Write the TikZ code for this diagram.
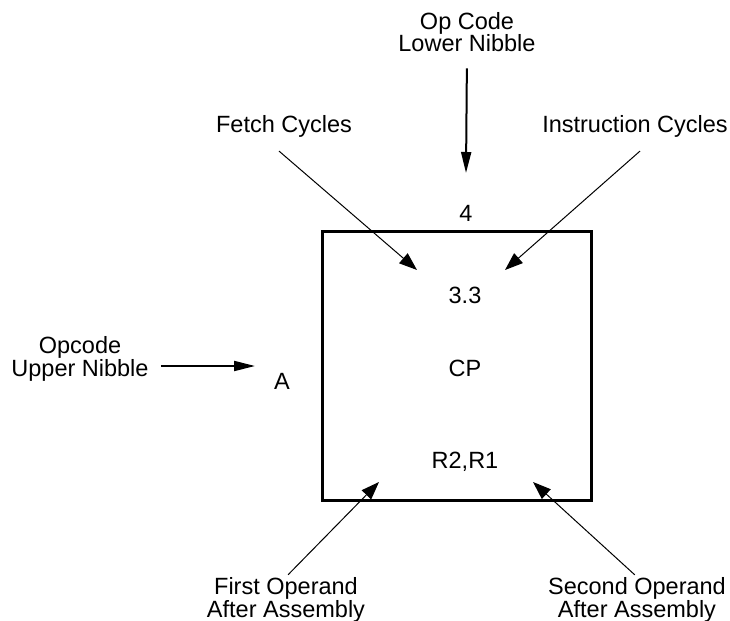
\documentclass[tikz,border=0pt]{standalone}
\usepackage{fontspec}
\setmainfont{Liberation Sans}
\usetikzlibrary{arrows.meta}
\tikzset{
  etichetta/.style={inner sep=0pt, align=center, anchor=base, font=\fontsize{23.5bp}{20bp}\selectfont},
  freccia/.style={line width=2bp, -{Triangle[length=21bp,width=10bp]}},
  freccina/.style={line width=1bp, -{Triangle[length=18bp,width=13bp]}}
}

\begin{document}
\begin{tikzpicture}[x=1bp,y=-1bp]
    \useasboundingbox (0,0) rectangle (730,621);

    % Disegna il riquadro
    \node[draw, line width=3bp, minimum width=269bp, minimum height=268bp, inner sep=0pt] (riquadro) at (456.5,366) {};

    % Testi nel riquadro e intorno
    \node[etichetta] (four) at (466,221) {4};
    \node[etichetta] (cycles) at (465,303) {3.3};
    \node[etichetta] (cp) at (465,376) {CP};
    \node[etichetta] (regs) at (465,468) {R2,R1};
    \node[etichetta] (a) at (282,389) {A};

    % Etichette esterne (base = ultima riga)
    \node[etichetta] (oplow) at (467,52) {Op Code\\Lower Nibble};
    \node[etichetta] (opup) at (80,376) {Opcode\\Upper Nibble};
    \node[etichetta] (fetch) at (284,133) {Fetch Cycles};
    \node[etichetta] (instr) at (635,133) {Instruction Cycles};
    \node[etichetta] (first) at (286,617) {First Operand\\After Assembly};
    \node[etichetta] (second) at (637,617) {Second Operand\\After Assembly};

    % Punte delle frecce
    \coordinate (pfour) at (466,173);
    \coordinate (pa) at (255,366);
    \coordinate (pfetch) at (417,270);
    \coordinate (pinstr) at (505,270);
    \coordinate (pfirst) at (379,482);
    \coordinate (psecond) at (533,482);

    % Frecce
    \draw[freccia, shorten <=16bp] (oplow.south) -- (pfour); % dall'alto
    \draw[freccia, shorten <=12bp] (opup.east |- pa) -- (pa); % da sinistra
    \draw[freccina] ([xshift=-5bp,yshift=-13bp]fetch.south) -- (pfetch);
    \draw[freccina] ([xshift=5bp,yshift=-13bp]instr.south) -- (pinstr);
    \draw[freccina, shorten <=3bp] (first.north) -- (pfirst);
    \draw[freccina, shorten <=3bp] (second.north) -- (psecond);
\end{tikzpicture}
\end{document}
